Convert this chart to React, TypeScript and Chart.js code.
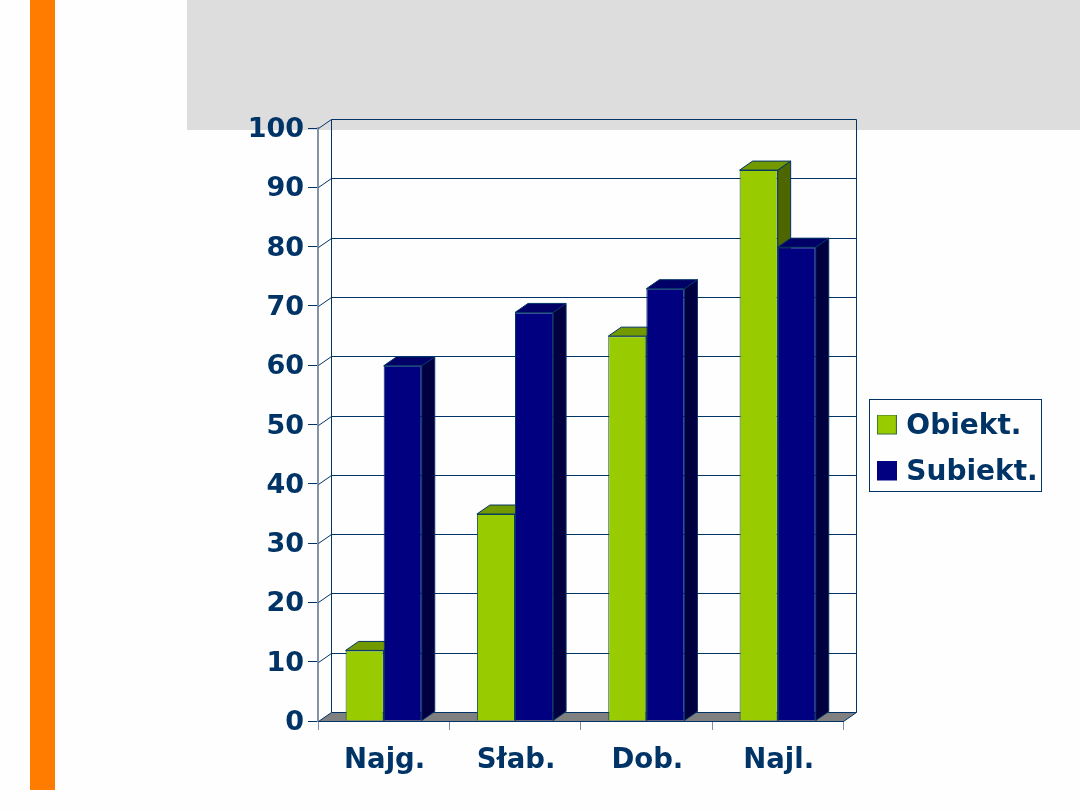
import React, { useEffect, useRef } from "react";
import { Chart, registerables } from "chart.js";

Chart.register(...registerables);

const categories = ["Najg.", "Słab.", "Dob.", "Najl."];
const obiekt = [11.9, 34.9, 64.9, 92.9];
const subiekt = [59.9, 68.9, 72.9, 79.9];
const yMin = 0;
const yMax = 100;
const yStep = 10;

const NAVY = "#003366";
const FONT = "'DejaVu Sans'";
const DX = 13;
const DY = -9;

const faces = [
  { top: "#739900", side: "#4d6600" },
  { top: "#000066", side: "#000040" },
];

function poly(ctx: CanvasRenderingContext2D, pts: number[][], fill: string, stroke: string) {
  ctx.beginPath();
  pts.forEach(([x, y], i) => (i ? ctx.lineTo(x, y) : ctx.moveTo(x, y)));
  ctx.closePath();
  ctx.fillStyle = fill;
  ctx.fill();
  ctx.strokeStyle = stroke;
  ctx.lineWidth = 1;
  ctx.stroke();
}

function swatch(fill: string, stroke: string) {
  const c = document.createElement("canvas");
  c.width = 20;
  c.height = 24;
  const x = c.getContext("2d")!;
  x.fillStyle = fill;
  x.fillRect(0.5, 0.5, 19, 19);
  x.strokeStyle = stroke;
  x.lineWidth = 1;
  x.strokeRect(0.5, 0.5, 19, 19);
  return c;
}

const crisp = (v: number) => Math.round(v) + 0.5;

const box3d = {
  id: "box3d",
  afterLayout(chart: any) {
    chart.scales.x.bottom = chart.height;
  },
  beforeDatasetsDraw(chart: any) {
    const { ctx, chartArea: a, scales } = chart;
    const yS = scales.y;
    const L = crisp(a.left);
    const R = crisp(a.right);
    const B = crisp(a.bottom);
    const T = crisp(a.top);
    ctx.save();
    ctx.strokeStyle = NAVY;
    ctx.lineWidth = 1;
    ctx.beginPath();
    yS.ticks.forEach((t: any) => {
      if (t.value === yMin) return;
      const y = crisp(yS.getPixelForValue(t.value));
      ctx.moveTo(L, y);
      ctx.lineTo(L + DX, y + DY);
      ctx.lineTo(R + DX, y + DY);
    });
    ctx.moveTo(L + DX, T + DY);
    ctx.lineTo(L + DX, B + DY);
    ctx.moveTo(R + DX, T + DY);
    ctx.lineTo(R + DX, B + DY);
    ctx.stroke();
    poly(ctx, [[L, B], [R, B], [R + DX, B + DY], [L + DX, B + DY]], "#808080", NAVY);
    chart.data.datasets.forEach((_: any, i: number) => {
      const f = faces[i];
      chart.getDatasetMeta(i).data.forEach((el: any) => {
        el.draw(ctx);
        const p = el.getProps(["x", "y", "base", "width"], true);
        const l = p.x - p.width / 2;
        const r = p.x + p.width / 2;
        poly(ctx, [[r, p.y], [r + DX, p.y + DY], [r + DX, p.base + DY], [r, p.base]], f.side, NAVY);
        poly(ctx, [[l, p.y], [r, p.y], [r + DX, p.y + DY], [l + DX, p.y + DY]], f.top, NAVY);
      });
    });
    ctx.restore();
    return false;
  },
  afterDraw(chart: any) {
    const { ctx, legend } = chart;
    const hb = legend.legendHitBoxes;
    if (!hb || !hb.length) return;
    ctx.save();
    ctx.strokeStyle = NAVY;
    ctx.lineWidth = 1;
    const left = crisp(legend.left + 6);
    const top = crisp(hb[0].top - 14);
    const bottom = crisp(hb[hb.length - 1].top + hb[hb.length - 1].height + 4);
    ctx.strokeRect(left, top, 172, bottom - top);
    ctx.restore();
  },
};

export default function App() {
  const ref = useRef<HTMLCanvasElement>(null);
  useEffect(() => {
    const chart = new Chart(ref.current!, {
      type: "bar",
      plugins: [box3d],
      data: {
        labels: categories,
        datasets: [
          { label: "Obiekt.", data: obiekt, backgroundColor: "#99cc00", borderColor: "#1a4d55", borderWidth: 1, pointStyle: swatch("#99cc00", "#3a6f3a") },
          { label: "Subiekt.", data: subiekt, backgroundColor: "#000080", borderColor: "#003366", borderWidth: 1, pointStyle: swatch("#000080", "#000080") },
        ] as any,
      },
      options: {
        responsive: false,
        animation: false,
        layout: { padding: { left: 0, top: 128, right: 44, bottom: 39 } },
        datasets: { bar: { barPercentage: 1, categoryPercentage: 0.58 } },
        plugins: {
          tooltip: { enabled: false },
          title: { display: false },
          legend: {
            display: true,
            position: "right",
            align: "center",
            labels: {
              usePointStyle: true,
              pointStyleWidth: 11,
              padding: 18,
              color: NAVY,
              font: { family: FONT, size: 28, weight: "bold" },
            },
          },
        },
        scales: {
          x: {
            offset: true,
            afterFit: (s: any) => { s.height = 50; },
            grid: { display: true, drawOnChartArea: false, drawTicks: true, tickLength: 9, tickColor: "#7f8ea3", offset: true },
            border: { display: true, color: NAVY, width: 1 },
            ticks: { color: NAVY, padding: 14, labelOffset: 1, maxRotation: 0, font: { family: FONT, size: 27.5, weight: "bold" } },
          },
          y: {
            min: yMin,
            max: yMax,
            afterFit: (s: any) => { s.width = 318; },
            grid: { display: true, drawOnChartArea: false, drawTicks: true, tickLength: 10, tickColor: NAVY },
            border: { display: true, color: "#8593a8", width: 2 },
            ticks: { stepSize: yStep, color: NAVY, padding: 4, labelOffset: 2, font: { family: FONT, size: 27, weight: "bold" } },
          },
          spacer: {
            type: "linear",
            position: "right",
            display: true,
            afterFit: (s: any) => { s.width = 20; },
            grid: { display: false },
            border: { display: false },
            ticks: { display: false },
          },
        } as any,
      },
    });
    return () => chart.destroy();
  }, []);

  return (
    <div style={{ position: "fixed", left: 0, top: 0, width: 1080, height: 810, background: "#fefefe", overflow: "hidden" }}>
      <div style={{ position: "absolute", left: 30, top: 0, width: 25, height: 790, background: "#ff7c00" }} />
      <div style={{ position: "absolute", left: 187, top: 0, width: 893, height: 130, background: "#dddddd" }} />
      <canvas ref={ref} width={1080} height={810} style={{ position: "absolute", left: 0, top: 0, display: "block" }} />
    </div>
  );
}
